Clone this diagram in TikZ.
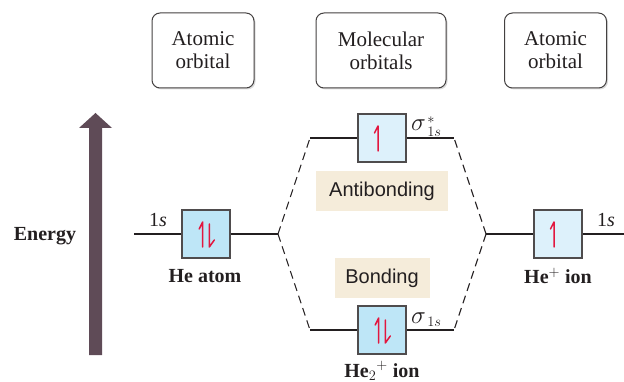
\documentclass[tikz,border=0pt]{standalone}
\usepackage{fontspec}
\setmainfont{Liberation Serif}
\newfontfamily\labelsans{Liberation Sans}
\usetikzlibrary{shadows}
\definecolor{ink}{HTML}{231F20}
\definecolor{fullbox}{HTML}{BEE6F7}
\definecolor{halfbox}{HTML}{DDF1FB}
\definecolor{beige}{HTML}{F5ECDA}
\definecolor{espincol}{HTML}{E2173F}
\definecolor{energycol}{HTML}{5F4B57}
\newcommand{\bigsig}{{\fontsize{27}{30}\selectfont$\sigma$}\kern1.5pt}
\begin{document}
\begin{tikzpicture}[x=1pt,y=-1pt,
  header/.style={draw=ink!85, line width=1pt, rounded corners=8pt, fill=white,
    minimum height=75pt, align=center, text=ink,
    font=\fontsize{21}{23}\selectfont,
    drop shadow={shadow xshift=1.5pt, shadow yshift=-1.5pt, opacity=0.35, fill=black!40}},
  orb/.style={draw=ink!80, line width=1.2pt, minimum size=48pt, inner sep=0pt},
  level/.style={draw=ink, line width=1.1pt},
  corr/.style={draw=ink, line width=1.1pt, dash pattern=on 8pt off 5pt},
  tag/.style={fill=beige, text=ink, inner sep=0pt, font=\labelsans\fontsize{20}{24}\selectfont},
  lbl/.style={text=ink, inner sep=0pt, font=\fontsize{20}{24}\selectfont},
  blbl/.style={text=ink, inner sep=0pt, font=\bfseries\fontsize{20}{24}\selectfont},
  espin/.style={draw=espincol, line width=1.5pt, line cap=round, line join=round},
  spinup/.pic={\draw[espin] (0,13) -- (0,-12) -- (-3.5,-5);},
  spindown/.pic={\draw[espin] (0,-10) -- (0,13) -- (5,6);}
]
\useasboundingbox (0,0) rectangle (624,382);

% headers
\node[header, minimum width=102pt] (hL) at (203,50.5) {Atomic\\orbital};
\node[header, minimum width=130pt] (hM) at (381,50.5) {Molecular\\orbitals};
\node[header, minimum width=102pt] (hR) at (555.5,50.5) {Atomic\\orbital};

% energy arrow
\coordinate (eb1) at (89,355);
\coordinate (eb2) at (102,355);
\fill[energycol] (eb1) -- (89,128) -- (79,128) -- (95.5,113) -- (112,128) -- (102,128) -- (eb2) -- cycle;
\node[blbl] (energy) at (45,236) {Energy};

% orbital boxes
\node[orb, fill=fullbox] (a1) at (206,234) {};
\node[orb, fill=halfbox] (s2) at (382,138) {};
\node[orb, fill=fullbox] (s1) at (382,330) {};
\node[orb, fill=halfbox] (a2) at (558,234) {};

% electrons
\pic at ([xshift=-3.3pt]a1.center) {spinup};
\pic at ([xshift=3.3pt]a1.center) {spindown};
\pic at ([xshift=-4pt]s2.center) {spinup};
\pic at ([xshift=-3.3pt]s1.center) {spinup};
\pic at ([xshift=3.3pt]s1.center) {spindown};
\pic at ([xshift=-4pt]a2.center) {spinup};

% level lines
\coordinate (lL) at (134,234);
\coordinate (jL) at (278,234);
\coordinate (tL) at (310,138);
\coordinate (tR) at (454,138);
\coordinate (bL) at (310,330);
\coordinate (bR) at (454,330);
\coordinate (jR) at (486,234);
\coordinate (lR) at (624,234);

\draw[level] (lL) -- (a1.west);
\draw[level] (a1.east) -- (jL);
\draw[level] (tL) -- (s2.west);
\draw[level] (s2.east) -- (tR);
\draw[level] (bL) -- (s1.west);
\draw[level] (s1.east) -- (bR);
\draw[level] (jR) -- (a2.west);
\draw[level] (a2.east) -- (lR);

% correlation lines
\draw[corr] (jL) -- (tL);
\draw[corr] (jL) -- (bL);
\draw[corr] (jR) -- (tR);
\draw[corr] (jR) -- (bR);

% labels
\node[lbl] (ls1) at (158,220) {1\textit{s}};
\node[lbl] (ls2) at (606,220) {1\textit{s}};
\node[lbl, anchor=base west] (sigs) at (411,131) {\bigsig${}^{*}_{1s}$};
\node[lbl, anchor=base west] (sig) at (411,323) {\bigsig${}_{1s}$};
\node[blbl] (heatom) at (205,276) {He atom};
\node[blbl] (heion) at (558,276) {He$^{+}$ ion};
\node[blbl, anchor=base] (he2ion) at (382,377) {He$_2{}^{+}$ ion};

\node[tag, minimum width=132pt, minimum height=40pt] (anti) at (382,191) {Antibonding};
\node[tag, minimum width=95pt, minimum height=40pt] (bond) at (382,278) {Bonding};
\end{tikzpicture}
\end{document}
